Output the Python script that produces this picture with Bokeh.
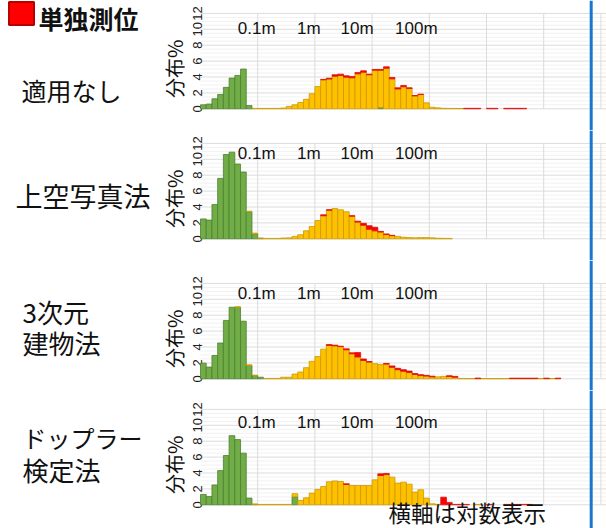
import math
from bokeh.plotting import figure
from bokeh.layouts import column
from bokeh.models import ColumnDataSource, Range1d, Label, Span
from bokeh.core.properties import value
from bokeh.embed import file_html
from bokeh.resources import INLINE

# ---------------- data ----------------
# histogram bins: log10(error in metres), first bin starts at 1 cm, 10 bins per decade
BIN_LOG_START = -2.0
BIN_LOG_WIDTH = 0.1

PANEL_NAMES = [["適用なし"], ["上空写真法"], ["3次元", "建物法"], ["ドップラー", "検定法"]]
LEGEND_TEXT = "単独測位"
Y_LABEL = "分布%"
NOTE_TEXT = "横軸は対数表示"
Y_TICKS = [0, 2, 4, 6, 8, 10, 12]
Y_MINOR = [0.5, 1, 1.5, 2.5, 3, 3.5, 4.5, 5, 5.5, 6.5, 7, 7.5, 8.5, 9, 9.5, 10.5, 11, 11.5]
DECADES = [0.1, 1, 10, 100, 1000, 10000, 100000]
X_LABEL_VALUES = [0.1, 1, 10, 100]
X_LABELS = ["0.1m", "1m", "10m", "100m"]

# panel 1: 適用なし   (index = bin number)
P1_GREEN = [0.5, 0.6, 1.26, 1.8, 2.7, 3.86, 4.2, 5.0, 0.4, 0,
            0, 0, 0, 0, 0, 0, 0, 0, 0, 0,
            0, 0, 0, 0, 0, 0, 0, 0, 0, 0,
            0, 0.15]
P1_YELLOW = [0, 0, 0, 0, 0, 0, 0, 0, 0, 0.05,
             0.05, 0.05, 0.05, 0.05, 0.1, 0.3, 0.5, 0.8, 1.2, 1.9,
             2.8, 3.65, 3.75, 4.1, 4.19, 3.98, 3.9, 4.4, 4.6, 4.28,
             4.86, 4.71, 5.1, 3.77, 2.5, 2.77, 2.56, 1.63, 1.8, 0.75,
             0.2, 0.12, 0.06, 0.05, 0.05, 0.04]
P1_RED = [0, 0, 0, 0, 0, 0, 0, 0, 0, 0,
          0, 0, 0, 0, 0, 0, 0, 0, 0, 0,
          0, 0.05, 0.1, 0.18, 0.17, 0.17, 0.17, 0.17, 0.18, 0.08,
          0.09, 0.09, 0.18, 0.17, 0.14, 0.16, 0.08, 0.04, 0.04, 0,
          0, 0, 0, 0, 0, 0, 0.06, 0.06, 0.06, 0,
          0.06, 0.06, 0, 0.06, 0.06, 0.06, 0.06]

# panel 2: 上空写真法
P2_GREEN = [2.5, 2.35, 4.3, 7.6, 10.6, 10.9, 9.4, 8.4, 3.4, 0.6,
            0.05]
P2_YELLOW = [0, 0, 0, 0, 0, 0, 0, 0, 0.06, 0.12,
             0.05, 0.05, 0.05, 0.05, 0.1, 0.12, 0.3, 0.5, 1.0, 1.55,
             2.3, 2.9, 3.6, 3.8, 3.65, 3.4, 2.85, 2.1, 1.7, 1.2,
             1.0, 0.85, 0.55, 0.4, 0.3, 0.2, 0.15, 0.12, 0.15, 0.15,
             0.12, 0.08, 0.06, 0.05]
P2_RED = [0, 0, 0, 0, 0, 0, 0, 0, 0, 0,
          0, 0, 0, 0, 0, 0, 0, 0, 0, 0,
          0, 0.12, 0.05, 0, 0, 0, 0.05, 0.12, 0.25, 0.45,
          0.45, 0.08, 0.06, 0.03]

# panel 3: 3次元建物法
P3_GREEN = [1.97, 1.47, 2.93, 4.5, 7.34, 9.0, 9.0, 7.25, 1.68, 0.4,
            0.2]
P3_YELLOW = [0, 0, 0, 0, 0, 0, 0.05, 0, 0.08, 0.05,
             0, 0.05, 0.05, 0.05, 0.2, 0.2, 0.6, 0.85, 1.4, 2.2,
             2.8, 3.73, 4.2, 4.15, 4.05, 3.65, 3.15, 2.75, 2.3, 2.1,
             1.9, 1.8, 1.85, 1.45, 1.15, 0.95, 0.8, 0.55, 0.4, 0.35,
             0.25, 0.25, 0.3, 0.3, 0.2, 0.05, 0.04, 0.03, 0.03, 0.03,
             0.03, 0.03, 0.03, 0.03, 0.03, 0.03, 0.03, 0.03, 0.03, 0.03,
             0.03, 0.03, 0.03]
P3_RED = [0, 0, 0, 0, 0, 0, 0, 0, 0, 0,
          0, 0, 0, 0, 0, 0, 0, 0, 0, 0,
          0, 0, 0.1, 0.08, 0.05, 0.12, 0.12, 0.55, 0.2, 0.08,
          0, 0, 0.08, 0.17, 0.17, 0.2, 0.17, 0.12, 0.12, 0.08,
          0.08, 0, 0, 0.08, 0.1, 0, 0, 0, 0.06, 0,
          0, 0, 0, 0, 0.05, 0.05, 0.05, 0.05, 0.05, 0,
          0.05, 0, 0.05]

# panel 4: ドップラー検定法
P4_GREEN = [1.3, 1.05, 2.5, 4.3, 6.2, 8.7, 8.2, 6.5, 0.84, 0.05,
            0, 0, 0, 0, 0, 0, 1.0]
P4_YELLOW = [0, 0, 0, 0, 0, 0, 0, 0, 0, 0.05,
             0.05, 0.05, 0.05, 0.05, 0.05, 0.05, 0.4, 0.55, 0.88, 1.47,
             1.93, 2.3, 2.9, 3.0, 2.93, 2.56, 2.43, 2.43, 2.43, 2.43,
             3.14, 3.69, 3.8, 3.48, 2.73, 2.85, 2.6, 1.6, 1.89, 0.84,
             0.13, 0.06, 0, 0, 0, 0, 0, 0, 0.05]
P4_RED = [0, 0, 0, 0, 0, 0, 0, 0, 0, 0,
          0, 0, 0, 0, 0, 0, 0, 0, 0, 0,
          0, 0, 0, 0, 0, 0.08, 0, 0, 0, 0,
          0, 0.2, 0.14, 0, 0, 0, 0, 0, 0, 0,
          0, 0, 0.96, 0.3, 0.05, 0.05, 0.05, 0, 0, 0,
          0.05, 0, 0, 0.05, 0.05, 0.05, 0.05, 0.05]

PANELS = [
    (P1_GREEN, P1_YELLOW, P1_RED),
    (P2_GREEN, P2_YELLOW, P2_RED),
    (P3_GREEN, P3_YELLOW, P3_RED),
    (P4_GREEN, P4_YELLOW, P4_RED),
]

# ---------------- layout / style (page pixels) ----------------
FIG_W = 606
FIG_TOP = [0, 130, 260, 390]
FIG_H = [130, 130, 130, 138]
ZERO_Y = [108.3, 238.3, 378.3, 504.3]  # y = 0 line of each panel
UNIT_PX = 7.95                         # px per 1 %
FRAME_LEFT = 200                       # px of 1 cm
DECADE_PX = 57.2
XLAB_BASE = [28, 153.3, 293.3, 421.7]
XLAB_OFFSET = [-1, -6, -15, -13]

GREEN, GREEN_LINE = "#70AD47", "#4E7F2E"
YELLOW, YELLOW_LINE = "#FFC000", "#C99A00"
RED, RED_LINE = "#FF0000", "#E01010"
GRID = "#dcdcdc"
GRID_MINOR = "#f1f1f1"
BLUE = "#1877CC"
INK = "#111111"
JP = "Noto Sans CJK JP"


def xd(px):
    return 10 ** (-2 + (px - FRAME_LEFT) / DECADE_PX)


def yd(i, py):
    return (ZERO_Y[i] - py) / UNIT_PX


def pad(a, n):
    return list(a) + [0.0] * (n - len(a))


x_lo, x_hi = xd(FRAME_LEFT), xd(FIG_W)

figs = []
for i, (g, yv, r) in enumerate(PANELS):
    n = max(len(g), len(yv), len(r))
    g, yv, r = pad(g, n), pad(yv, n), pad(r, n)
    p = figure(width=FIG_W, height=FIG_H[i], title=None,
               x_axis_type="log", x_axis_location=None, y_axis_location=None,
               x_range=Range1d(xd(0), xd(FIG_W)),
               y_range=Range1d(yd(i, FIG_TOP[i] + FIG_H[i]), yd(i, FIG_TOP[i])),
               output_backend="svg", toolbar_location=None,
               min_border=0, outline_line_color=None,
               background_fill_color="white", border_fill_color="white")
    p.grid.visible = False

    # grid lines (minor, major horizontal; decade verticals)
    p.segment(x0=[x_lo] * len(Y_MINOR), x1=[x_hi] * len(Y_MINOR), y0=Y_MINOR, y1=Y_MINOR,
              line_color=GRID_MINOR, line_width=1, level="underlay")
    p.segment(x0=[x_lo] * len(Y_TICKS), x1=[x_hi] * len(Y_TICKS), y0=Y_TICKS, y1=Y_TICKS,
              line_color=GRID, line_width=1, level="underlay")
    p.segment(x0=DECADES, x1=DECADES, y0=[Y_TICKS[0]] * len(DECADES),
              y1=[Y_TICKS[-1]] * len(DECADES), line_color=GRID, line_width=1,
              level="underlay")

    # y tick labels (rotated)
    p.text(x=[xd(196.5)] * len(Y_TICKS), y=Y_TICKS, text=[str(t) for t in Y_TICKS],
           angle=math.pi / 2, text_font=value("Liberation Sans"), text_font_size="13px",
           text_align="center", text_baseline="middle", text_color="#222222")

    # stacked histogram
    left = [10 ** (BIN_LOG_START + k * BIN_LOG_WIDTH) for k in range(n)]
    right = [10 ** (BIN_LOG_START + (k + 1) * BIN_LOG_WIDTH) for k in range(n)]
    base = [0.0] * n
    for vals, fc, lc in ((g, GREEN, GREEN_LINE), (yv, YELLOW, YELLOW_LINE), (r, RED, RED_LINE)):
        idx = [k for k in range(n) if vals[k] > 0]
        src = ColumnDataSource(dict(
            left=[left[k] for k in idx], right=[right[k] for k in idx],
            bottom=[base[k] for k in idx], top=[base[k] + vals[k] for k in idx]))
        p.quad(left="left", right="right", bottom="bottom", top="top", source=src,
               fill_color=fc, line_color=lc, line_width=0.8)
        base = [base[k] + vals[k] for k in range(n)]

    # in-plot distance labels
    yl = yd(i, XLAB_BASE[i])
    p.text(x=X_LABEL_VALUES, y=[yl] * len(X_LABEL_VALUES), text=X_LABELS,
           x_offset=XLAB_OFFSET, text_font=value("Liberation Sans"),
           text_font_size="17px", text_align="center", text_baseline="alphabetic",
           text_color=INK)

    # y axis title
    p.add_layout(Label(x=xd(174), y=yd(i, ZERO_Y[i] - 40), text=Y_LABEL,
                       angle=math.pi / 2, text_font=JP, text_font_size="20px",
                       text_align="center", text_baseline="middle", text_color=INK))

    # blue separator line
    p.add_layout(Span(location=xd(590.7), dimension="height",
                      line_color=BLUE, line_width=3))
    figs.append(p)

# panel names (left side)
name_pos = [
    [(21, 89, "25px")],
    [(15, 195, "27px")],
    [(22, 311, "26px"), (22, 342, "26px")],
    [(22, 437, "24px"), (22, 469, "26px")],
]
for i, lines in enumerate(PANEL_NAMES):
    for text, (px, py, fs) in zip(lines, name_pos[i]):
        figs[i].add_layout(Label(x=xd(px), y=yd(i, py), text=text, text_font=JP,
                                 text_font_size=fs, text_align="left",
                                 text_baseline="middle", text_color=INK))

# legend (top-left): red marker + label
figs[0].rect(x=[xd(21)], y=[yd(0, 13)], width=[25], height=[23],
             width_units="screen", height_units="screen",
             fill_color=RED, line_color="#B80000", line_width=2)
figs[0].add_layout(Label(x=xd(38), y=yd(0, 17), text=LEGEND_TEXT, text_font=JP,
                         text_font_size="25px", text_font_style="bold",
                         text_align="left", text_baseline="middle", text_color=INK))

# note (bottom-right)
figs[3].add_layout(Label(x=xd(388), y=yd(3, 511), text=NOTE_TEXT, text_font=JP,
                         text_font_size="22.5px", text_align="left",
                         text_baseline="middle", text_color=INK))

layout = column(*figs, spacing=0)
open("out.html", "w").write(file_html(layout, INLINE))
